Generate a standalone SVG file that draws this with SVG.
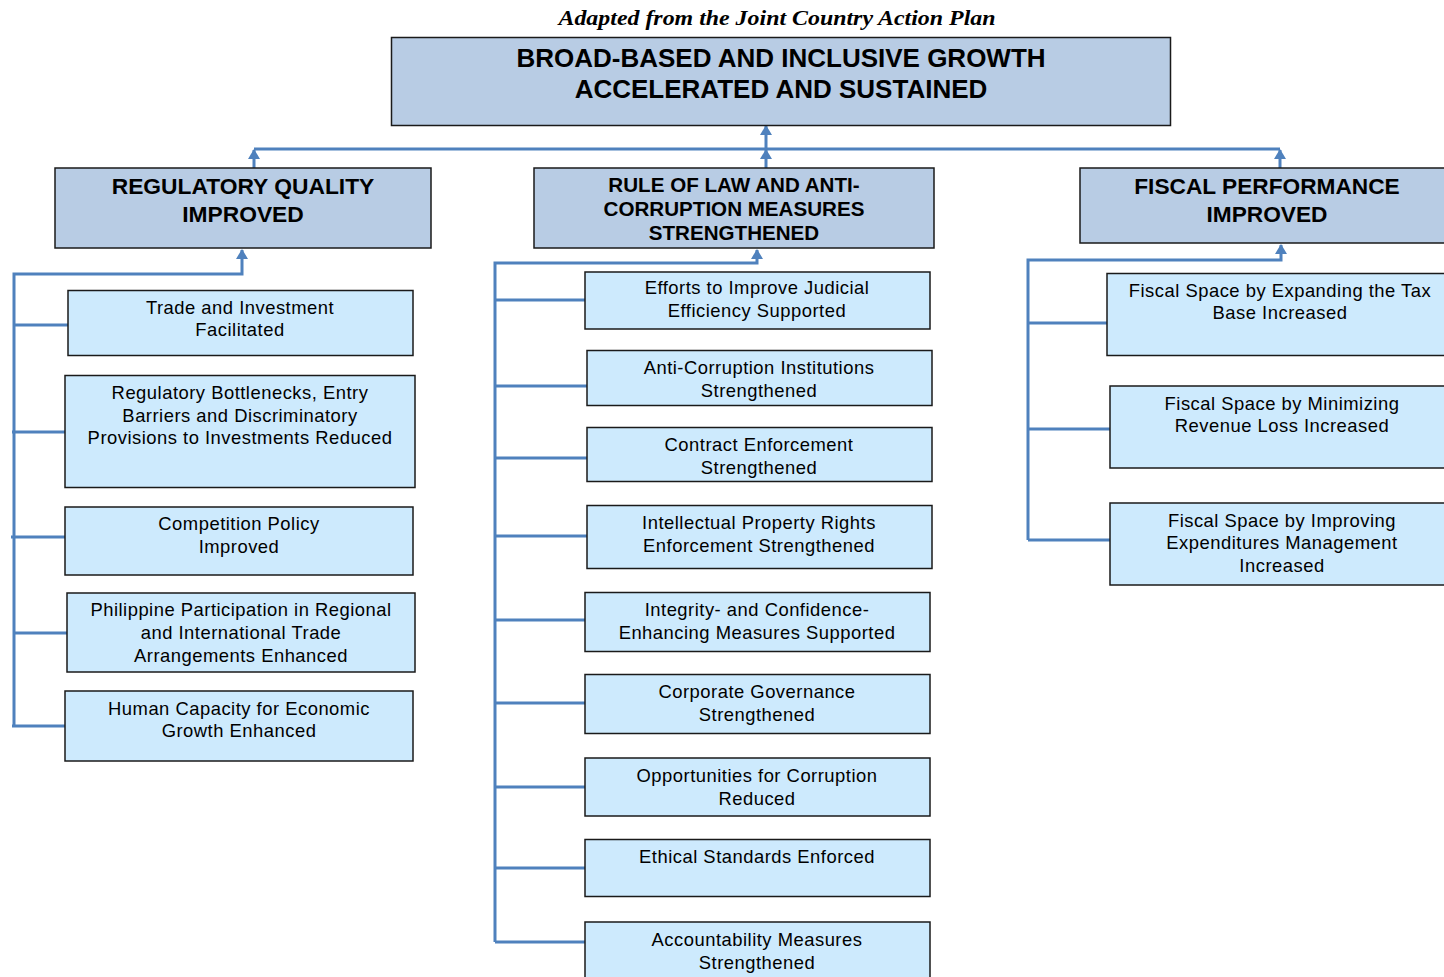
<svg xmlns="http://www.w3.org/2000/svg" width="1444" height="977" viewBox="0 0 1444 977">
<style>
.bg{fill:#ffffff}
.top{fill:#b8cce4;stroke:#1a1a1a;stroke-width:1.5}
.child{fill:#cdeafd;stroke:#1a1a1a;stroke-width:1.5}
.ttl{font-family:"Liberation Sans",Arial,sans-serif;font-weight:bold;fill:#000;text-anchor:middle}
.t{font-family:"Liberation Sans",Arial,sans-serif;font-size:18.4px;letter-spacing:0.5px;fill:#000;text-anchor:middle}
.cap{font-family:"Liberation Serif","Times New Roman",serif;font-style:italic;font-weight:bold;font-size:22px;fill:#000;text-anchor:middle}
.c{fill:none;stroke:#4f81bd;stroke-width:3}
</style>
<defs>
<marker id="ah" markerUnits="userSpaceOnUse" markerWidth="10" markerHeight="12" refX="9" refY="6" orient="auto" viewBox="0 0 10 12">
<path d="M0,0 L10,6 L0,12 z" fill="#4f81bd"/>
</marker>
</defs>
<rect class="bg" x="0" y="0" width="1444" height="977"/>
<text class="cap" x="777" y="25" textLength="437" lengthAdjust="spacingAndGlyphs">Adapted from the Joint Country Action Plan</text>

<g id="connectors">
<line class="c" x1="254" y1="149" x2="1280" y2="149"/>
<line class="c" x1="254" y1="168" x2="254" y2="150" marker-end="url(#ah)"/>
<line class="c" x1="1280" y1="168" x2="1280" y2="150" marker-end="url(#ah)"/>
<line class="c" x1="766" y1="168" x2="766" y2="150" marker-end="url(#ah)"/>
<line class="c" x1="766" y1="149" x2="766" y2="126" marker-end="url(#ah)"/>
<polyline class="c" points="14,726 14,274 242,274 242,250" marker-end="url(#ah)"/>
<line class="c" x1="14" y1="325" x2="68" y2="325"/>
<line class="c" x1="12" y1="432" x2="65" y2="432"/>
<line class="c" x1="11" y1="537" x2="65" y2="537"/>
<line class="c" x1="14" y1="633" x2="67" y2="633"/>
<line class="c" x1="12" y1="726" x2="65" y2="726"/>
<polyline class="c" points="495,942 495,263 757,263 757,250" marker-end="url(#ah)"/>
<line class="c" x1="495" y1="300" x2="585" y2="300"/>
<line class="c" x1="495" y1="386" x2="587" y2="386"/>
<line class="c" x1="495" y1="458" x2="587" y2="458"/>
<line class="c" x1="495" y1="536" x2="587" y2="536"/>
<line class="c" x1="495" y1="620" x2="585" y2="620"/>
<line class="c" x1="495" y1="703" x2="585" y2="703"/>
<line class="c" x1="495" y1="787" x2="585" y2="787"/>
<line class="c" x1="495" y1="868" x2="585" y2="868"/>
<line class="c" x1="495" y1="942" x2="585" y2="942"/>
<polyline class="c" points="1028,540 1028,260 1281,260 1281,245" marker-end="url(#ah)"/>
<line class="c" x1="1028" y1="323" x2="1107" y2="323"/>
<line class="c" x1="1028" y1="429" x2="1110" y2="429"/>
<line class="c" x1="1028" y1="540" x2="1110" y2="540"/>
</g>

<g id="goal">
<rect class="top" x="391.5" y="37.5" width="779" height="88"/>
<text class="ttl" x="781" y="67" font-size="26">BROAD-BASED AND INCLUSIVE GROWTH</text>
<text class="ttl" x="781" y="98" font-size="26">ACCELERATED AND SUSTAINED</text>
</g>

<g id="regulatory">
<rect class="top" x="55" y="168" width="376" height="80"/>
<text class="ttl" x="243" y="194" font-size="22.8">REGULATORY QUALITY</text>
<text class="ttl" x="243" y="222" font-size="22.8">IMPROVED</text>
</g>
<g id="ruleoflaw">
<rect class="top" x="534" y="168" width="400" height="80"/>
<text class="ttl" x="734" y="192" font-size="20.6">RULE OF LAW AND ANTI-</text>
<text class="ttl" x="734" y="216" font-size="20.6">CORRUPTION MEASURES</text>
<text class="ttl" x="734" y="240" font-size="20.6">STRENGTHENED</text>
</g>
<g id="fiscal">
<rect class="top" x="1080" y="168" width="372" height="75"/>
<text class="ttl" x="1267" y="194" font-size="22.7">FISCAL PERFORMANCE</text>
<text class="ttl" x="1267" y="222" font-size="22.7">IMPROVED</text>
</g>

<g id="r1"><rect class="child" x="68" y="290.5" width="345" height="65"/>
<text class="t" x="240" y="314">Trade and Investment</text><text class="t" x="240" y="336">Facilitated</text></g>
<g id="r2"><rect class="child" x="65" y="375.5" width="350" height="112"/>
<text class="t" x="240" y="399">Regulatory Bottlenecks, Entry</text><text class="t" x="240" y="422">Barriers and Discriminatory</text><text class="t" x="240" y="444">Provisions to Investments Reduced</text></g>
<g id="r3"><rect class="child" x="65" y="507" width="348" height="68"/>
<text class="t" x="239" y="530">Competition Policy</text><text class="t" x="239" y="553">Improved</text></g>
<g id="r4"><rect class="child" x="67" y="593" width="348" height="79"/>
<text class="t" x="241" y="616">Philippine Participation in Regional</text><text class="t" x="241" y="639">and International Trade</text><text class="t" x="241" y="662">Arrangements Enhanced</text></g>
<g id="r5"><rect class="child" x="65" y="691" width="348" height="70"/>
<text class="t" x="239" y="715">Human Capacity for Economic</text><text class="t" x="239" y="737">Growth Enhanced</text></g>

<g id="m1"><rect class="child" x="585" y="272" width="345" height="57"/>
<text class="t" x="757" y="294">Efforts to Improve Judicial</text><text class="t" x="757" y="317">Efficiency Supported</text></g>
<g id="m2"><rect class="child" x="587" y="350.5" width="345" height="55"/>
<text class="t" x="759" y="374">Anti-Corruption Institutions</text><text class="t" x="759" y="397">Strengthened</text></g>
<g id="m3"><rect class="child" x="587" y="427.5" width="345" height="54"/>
<text class="t" x="759" y="451">Contract Enforcement</text><text class="t" x="759" y="474">Strengthened</text></g>
<g id="m4"><rect class="child" x="587" y="505.5" width="345" height="63"/>
<text class="t" x="759" y="529">Intellectual Property Rights</text><text class="t" x="759" y="552">Enforcement Strengthened</text></g>
<g id="m5"><rect class="child" x="585" y="592.5" width="345" height="59"/>
<text class="t" x="757" y="616">Integrity- and Confidence-</text><text class="t" x="757" y="639">Enhancing Measures Supported</text></g>
<g id="m6"><rect class="child" x="585" y="674.5" width="345" height="59"/>
<text class="t" x="757" y="698">Corporate Governance</text><text class="t" x="757" y="721">Strengthened</text></g>
<g id="m7"><rect class="child" x="585" y="758" width="345" height="58"/>
<text class="t" x="757" y="782">Opportunities for Corruption</text><text class="t" x="757" y="805">Reduced</text></g>
<g id="m8"><rect class="child" x="585" y="839.5" width="345" height="57"/>
<text class="t" x="757" y="863">Ethical Standards Enforced</text></g>
<g id="m9"><rect class="child" x="585" y="922" width="345" height="60"/>
<text class="t" x="757" y="946">Accountability Measures</text><text class="t" x="757" y="969">Strengthened</text></g>

<g id="f1"><rect class="child" x="1107" y="273.5" width="345" height="82"/>
<text class="t" x="1280" y="297">Fiscal Space by Expanding the Tax</text><text class="t" x="1280" y="319">Base Increased</text></g>
<g id="f2"><rect class="child" x="1110" y="386" width="345" height="82"/>
<text class="t" x="1282" y="410">Fiscal Space by Minimizing</text><text class="t" x="1282" y="432">Revenue Loss Increased</text></g>
<g id="f3"><rect class="child" x="1110" y="503" width="345" height="82"/>
<text class="t" x="1282" y="527">Fiscal Space by Improving</text><text class="t" x="1282" y="549">Expenditures Management</text><text class="t" x="1282" y="572">Increased</text></g>
</svg>
